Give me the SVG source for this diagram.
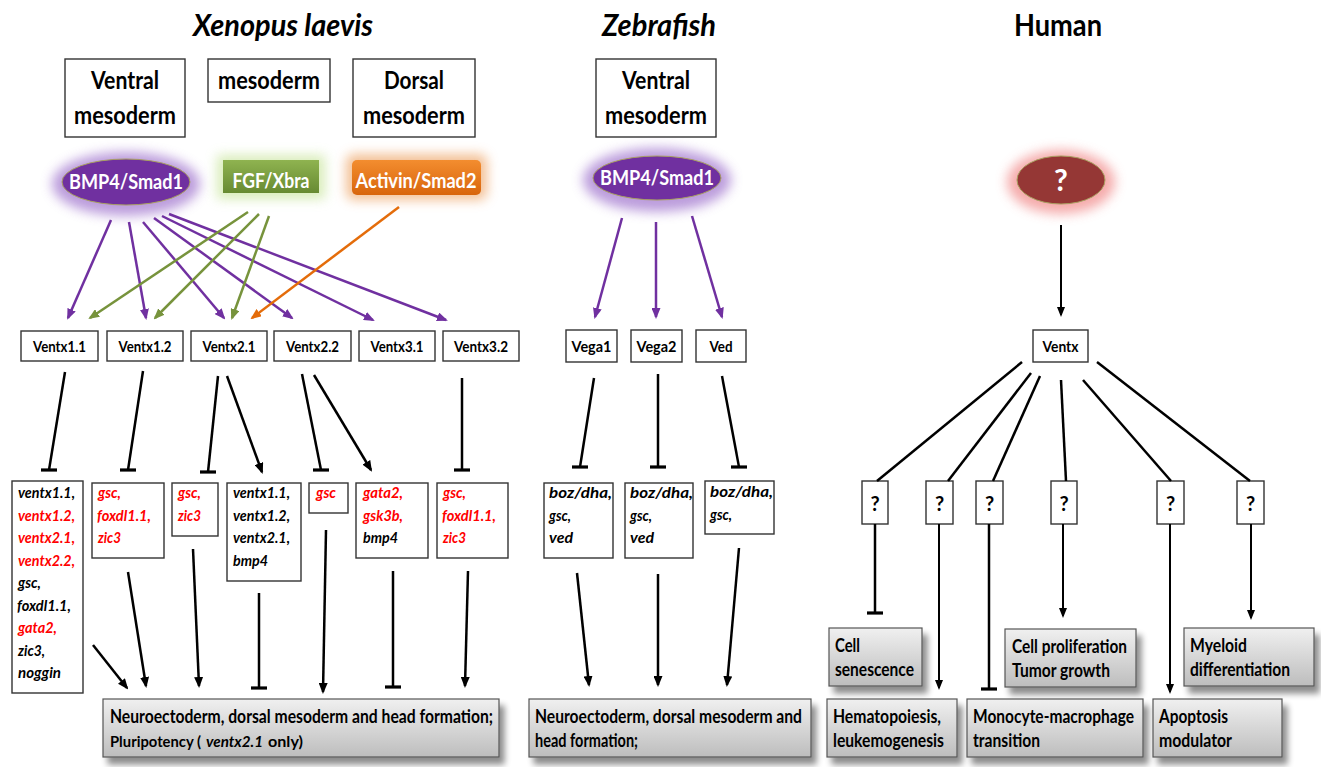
<svg xmlns="http://www.w3.org/2000/svg" width="1321" height="767" viewBox="0 0 1321 767">
<defs>
<style>
text{font-family:Lato,"Liberation Sans",sans-serif;fill:#000}
.box{fill:#fff;stroke:#333;stroke-width:1.4}
.hdr{font-size:24px;font-weight:bold;text-anchor:middle}
.title{font-size:30px;font-weight:bold;text-anchor:middle}
.sig{font-size:20px;font-weight:bold;text-anchor:middle;fill:#fff}
.bigq{font-size:30px;font-weight:bold;text-anchor:middle;fill:#fff}
.lbl{font-size:16px;font-weight:bold;text-anchor:middle}
.gene{font-size:16px;font-style:italic;font-weight:bold}
.red{fill:#ff0000}
.res{font-size:18px;font-weight:bold}
.res2{font-size:15.5px;font-weight:bold}
.it{font-style:italic}
.q{font-size:20px;font-weight:bold;text-anchor:middle}
.grey{fill:url(#gg);stroke:#555;stroke-width:1.2;filter:url(#sh)}
.pa{stroke:#7030a0;stroke-width:2.5;fill:none;marker-end:url(#ap)}
.ga{stroke:#77933c;stroke-width:2.5;fill:none;marker-end:url(#ag)}
.oa{stroke:#e46c0a;stroke-width:2.5;fill:none;marker-end:url(#ao)}
.ba{stroke:#000;stroke-width:2.5;fill:none;marker-end:url(#ab)}
.bt{stroke:#000;stroke-width:2;fill:none;marker-end:url(#ab2)}
.bl{stroke:#000;stroke-width:2.5;fill:none}
.bar{stroke:#000;stroke-width:3.2;fill:none}
</style>
<linearGradient id="gg" x1="0" y1="0" x2="0" y2="1"><stop offset="0" stop-color="#f0f0f0"/><stop offset="1" stop-color="#bdbdbd"/></linearGradient>
<linearGradient id="gf" x1="0" y1="0" x2="0" y2="1"><stop offset="0" stop-color="#8fb350"/><stop offset="1" stop-color="#678a32"/></linearGradient>
<linearGradient id="go" x1="0" y1="0" x2="0" y2="1"><stop offset="0" stop-color="#f38d2f"/><stop offset="1" stop-color="#d8650c"/></linearGradient>
<filter id="sh" x="-10%" y="-20%" width="130%" height="160%"><feGaussianBlur in="SourceAlpha" stdDeviation="3"/><feOffset dx="5" dy="7" result="o"/><feComponentTransfer><feFuncA type="linear" slope="0.45"/></feComponentTransfer><feMerge><feMergeNode/><feMergeNode in="SourceGraphic"/></feMerge></filter>
<filter id="blur" x="-50%" y="-50%" width="200%" height="200%"><feGaussianBlur stdDeviation="6"/></filter>
<marker id="ap" markerUnits="userSpaceOnUse" markerWidth="11" markerHeight="9" refX="9" refY="4.5" orient="auto"><path d="M0,0L11,4.5L0,9z" fill="#7030a0"/></marker>
<marker id="ag" markerUnits="userSpaceOnUse" markerWidth="11" markerHeight="9" refX="9" refY="4.5" orient="auto"><path d="M0,0L11,4.5L0,9z" fill="#77933c"/></marker>
<marker id="ao" markerUnits="userSpaceOnUse" markerWidth="11" markerHeight="9" refX="9" refY="4.5" orient="auto"><path d="M0,0L11,4.5L0,9z" fill="#e46c0a"/></marker>
<marker id="ab" markerUnits="userSpaceOnUse" markerWidth="11" markerHeight="9" refX="9" refY="4.5" orient="auto"><path d="M0,0L11,4.5L0,9z" fill="#000"/></marker>
<marker id="ab2" markerUnits="userSpaceOnUse" markerWidth="10" markerHeight="8" refX="8" refY="4" orient="auto"><path d="M0,0L10,4L0,8z" fill="#000"/></marker>
</defs>
<rect width="1321" height="767" fill="#fff"/>

<g id="titles">
<text class="title" x="283" y="36" font-style="italic" textLength="180" lengthAdjust="spacingAndGlyphs">Xenopus laevis</text>
<text class="title" x="659" y="36" font-style="italic" textLength="114" lengthAdjust="spacingAndGlyphs">Zebrafish</text>
<text class="title" x="1058" y="36" textLength="88" lengthAdjust="spacingAndGlyphs">Human</text>
</g>

<g id="x-ventral-mesoderm"><rect class="box" x="65" y="59" width="120" height="78"/><text class="hdr" x="125" y="89" textLength="68" lengthAdjust="spacingAndGlyphs">Ventral</text><text class="hdr" x="125" y="124" textLength="102" lengthAdjust="spacingAndGlyphs">mesoderm</text></g>
<g id="x-mesoderm"><rect class="box" x="208" y="59" width="122" height="43"/><text class="hdr" x="269" y="89" textLength="102" lengthAdjust="spacingAndGlyphs">mesoderm</text></g>
<g id="x-dorsal-mesoderm"><rect class="box" x="353" y="59" width="122" height="78"/><text class="hdr" x="414" y="89" textLength="60" lengthAdjust="spacingAndGlyphs">Dorsal</text><text class="hdr" x="414" y="124" textLength="102" lengthAdjust="spacingAndGlyphs">mesoderm</text></g>

<g id="x-bmp4">
<ellipse cx="126" cy="184" rx="74" ry="32" fill="#a57cd0" opacity="0.75" filter="url(#blur)"/>
<ellipse cx="126" cy="182" rx="64" ry="23" fill="#7030a0" stroke="#a8a060" stroke-width="1"/>
<text class="sig" x="126" y="189" textLength="114" lengthAdjust="spacingAndGlyphs">BMP4/Smad1</text></g>
<g id="x-fgf">
<rect x="217" y="155" width="108" height="44" fill="#cfe8a8" opacity="0.8" filter="url(#blur)"/>
<rect x="223" y="160" width="96" height="33" fill="url(#gf)"/>
<text class="sig" x="271" y="188" textLength="77" lengthAdjust="spacingAndGlyphs">FGF/Xbra</text></g>
<g id="x-activin">
<rect x="346" y="154" width="141" height="46" rx="8" fill="#f0b07a" opacity="0.8" filter="url(#blur)"/>
<rect x="352" y="160" width="129" height="35" rx="5" fill="url(#go)"/>
<text class="sig" x="416" y="188" textLength="121" lengthAdjust="spacingAndGlyphs">Activin/Smad2</text></g>

<g id="x-ventx11"><rect class="box" x="21" y="331" width="77" height="30"/><text class="lbl" x="59.5" y="352" textLength="53" lengthAdjust="spacingAndGlyphs">Ventx1.1</text></g>
<g id="x-ventx12"><rect class="box" x="107" y="331" width="76" height="30"/><text class="lbl" x="145" y="352" textLength="53" lengthAdjust="spacingAndGlyphs">Ventx1.2</text></g>
<g id="x-ventx21"><rect class="box" x="191" y="331" width="76" height="30"/><text class="lbl" x="229" y="352" textLength="53" lengthAdjust="spacingAndGlyphs">Ventx2.1</text></g>
<g id="x-ventx22"><rect class="box" x="274" y="331" width="77" height="30"/><text class="lbl" x="312.5" y="352" textLength="53" lengthAdjust="spacingAndGlyphs">Ventx2.2</text></g>
<g id="x-ventx31"><rect class="box" x="359" y="331" width="76" height="30"/><text class="lbl" x="397" y="352" textLength="53" lengthAdjust="spacingAndGlyphs">Ventx3.1</text></g>
<g id="x-ventx32"><rect class="box" x="443" y="331" width="76" height="30"/><text class="lbl" x="481" y="352" textLength="54" lengthAdjust="spacingAndGlyphs">Ventx3.2</text></g>

<g id="x-targets-a"><rect class="box" x="12" y="481" width="71" height="212"/>
<text class="gene" x="18" y="498" textLength="57" lengthAdjust="spacingAndGlyphs">ventx1.1,</text>
<text class="gene red" x="18" y="520.5" textLength="57" lengthAdjust="spacingAndGlyphs">ventx1.2,</text>
<text class="gene red" x="18" y="543" textLength="57" lengthAdjust="spacingAndGlyphs">ventx2.1,</text>
<text class="gene red" x="18" y="565.5" textLength="57" lengthAdjust="spacingAndGlyphs">ventx2.2,</text>
<text class="gene" x="18" y="588" textLength="23" lengthAdjust="spacingAndGlyphs">gsc,</text>
<text class="gene" x="17" y="610.5" textLength="54" lengthAdjust="spacingAndGlyphs">foxdl1.1,</text>
<text class="gene red" x="18" y="633" textLength="39" lengthAdjust="spacingAndGlyphs">gata2,</text>
<text class="gene" x="18" y="655.5" textLength="27" lengthAdjust="spacingAndGlyphs">zic3,</text>
<text class="gene" x="18" y="678" textLength="43" lengthAdjust="spacingAndGlyphs">noggin</text></g>
<g id="x-targets-b"><rect class="box" x="92" y="483" width="72" height="75"/>
<text class="gene red" x="98" y="498" textLength="23" lengthAdjust="spacingAndGlyphs">gsc,</text>
<text class="gene red" x="97" y="520.5" textLength="54" lengthAdjust="spacingAndGlyphs">foxdl1.1,</text>
<text class="gene red" x="98" y="543" textLength="23" lengthAdjust="spacingAndGlyphs">zic3</text></g>
<g id="x-targets-c"><rect class="box" x="172" y="483" width="46" height="53"/>
<text class="gene red" x="178" y="498" textLength="23" lengthAdjust="spacingAndGlyphs">gsc,</text>
<text class="gene red" x="178" y="520.5" textLength="23" lengthAdjust="spacingAndGlyphs">zic3</text></g>
<g id="x-targets-d"><rect class="box" x="227" y="483" width="74" height="98"/>
<text class="gene" x="233" y="498" textLength="57" lengthAdjust="spacingAndGlyphs">ventx1.1,</text>
<text class="gene" x="233" y="520.5" textLength="57" lengthAdjust="spacingAndGlyphs">ventx1.2,</text>
<text class="gene" x="233" y="543" textLength="57" lengthAdjust="spacingAndGlyphs">ventx2.1,</text>
<text class="gene" x="233" y="565.5" textLength="35" lengthAdjust="spacingAndGlyphs">bmp4</text></g>
<g id="x-targets-e"><rect class="box" x="309" y="483" width="39" height="30"/>
<text class="gene red" x="316" y="498" textLength="20" lengthAdjust="spacingAndGlyphs">gsc</text></g>
<g id="x-targets-f"><rect class="box" x="356" y="483" width="72" height="75"/>
<text class="gene red" x="363" y="498" textLength="40" lengthAdjust="spacingAndGlyphs">gata2,</text>
<text class="gene red" x="363" y="520.5" textLength="40" lengthAdjust="spacingAndGlyphs">gsk3b,</text>
<text class="gene" x="363" y="543" textLength="35" lengthAdjust="spacingAndGlyphs">bmp4</text></g>
<g id="x-targets-g"><rect class="box" x="437" y="483" width="71" height="75"/>
<text class="gene red" x="443" y="498" textLength="23" lengthAdjust="spacingAndGlyphs">gsc,</text>
<text class="gene red" x="442" y="520.5" textLength="54" lengthAdjust="spacingAndGlyphs">foxdl1.1,</text>
<text class="gene red" x="443" y="543" textLength="23" lengthAdjust="spacingAndGlyphs">zic3</text></g>

<g id="x-outcome"><rect class="grey" x="103" y="699" width="396" height="58"/>
<text class="res" x="110" y="723" textLength="383" lengthAdjust="spacingAndGlyphs">Neuroectoderm, dorsal mesoderm and head formation;</text>
<text class="res2" x="110" y="747" textLength="91" lengthAdjust="spacingAndGlyphs">Pluripotency (</text>
<text class="res2 it" x="206" y="747" textLength="57" lengthAdjust="spacingAndGlyphs">ventx2.1</text>
<text class="res2" x="268" y="747" textLength="35" lengthAdjust="spacingAndGlyphs">only)</text></g>

<g id="z-ventral-mesoderm"><rect class="box" x="596" y="59" width="120" height="78"/><text class="hdr" x="656" y="89" textLength="68" lengthAdjust="spacingAndGlyphs">Ventral</text><text class="hdr" x="656" y="124" textLength="102" lengthAdjust="spacingAndGlyphs">mesoderm</text></g>
<g id="z-bmp4">
<ellipse cx="657" cy="180" rx="74" ry="32" fill="#a57cd0" opacity="0.75" filter="url(#blur)"/>
<ellipse cx="657" cy="178" rx="64" ry="22" fill="#7030a0" stroke="#a8a060" stroke-width="1"/>
<text class="sig" x="657" y="185" textLength="114" lengthAdjust="spacingAndGlyphs">BMP4/Smad1</text></g>
<g id="z-vega1"><rect class="box" x="566" y="330" width="51" height="32"/><text class="lbl" x="591.5" y="352" textLength="40" lengthAdjust="spacingAndGlyphs">Vega1</text></g>
<g id="z-vega2"><rect class="box" x="631" y="330" width="51" height="32"/><text class="lbl" x="656.5" y="352" textLength="40" lengthAdjust="spacingAndGlyphs">Vega2</text></g>
<g id="z-ved"><rect class="box" x="696" y="330" width="50" height="32"/><text class="lbl" x="721" y="352" textLength="23" lengthAdjust="spacingAndGlyphs">Ved</text></g>
<g id="z-targets-1"><rect class="box" x="544" y="483" width="69" height="75"/>
<text class="gene" x="549" y="498" textLength="63" lengthAdjust="spacingAndGlyphs">boz/dha,</text>
<text class="gene" x="549" y="520.5" textLength="22" lengthAdjust="spacingAndGlyphs">gsc,</text>
<text class="gene" x="549" y="543" textLength="24" lengthAdjust="spacingAndGlyphs">ved</text></g>
<g id="z-targets-2"><rect class="box" x="625" y="483" width="68" height="75"/>
<text class="gene" x="630" y="498" textLength="63" lengthAdjust="spacingAndGlyphs">boz/dha,</text>
<text class="gene" x="630" y="520.5" textLength="22" lengthAdjust="spacingAndGlyphs">gsc,</text>
<text class="gene" x="630" y="543" textLength="24" lengthAdjust="spacingAndGlyphs">ved</text></g>
<g id="z-targets-3"><rect class="box" x="705" y="481" width="69" height="53"/>
<text class="gene" x="710" y="497" textLength="63" lengthAdjust="spacingAndGlyphs">boz/dha,</text>
<text class="gene" x="710" y="519.5" textLength="22" lengthAdjust="spacingAndGlyphs">gsc,</text></g>
<g id="z-outcome"><rect class="grey" x="529" y="699" width="282" height="58"/>
<text class="res" x="535" y="723" textLength="267" lengthAdjust="spacingAndGlyphs">Neuroectoderm, dorsal mesoderm and</text>
<text class="res" x="535" y="747" textLength="103" lengthAdjust="spacingAndGlyphs">head formation;</text></g>

<g id="h-unknown">
<ellipse cx="1061" cy="182" rx="54" ry="32" fill="#f29090" opacity="0.75" filter="url(#blur)"/>
<ellipse cx="1061" cy="180" rx="44" ry="24" fill="#953735" stroke="#a8a060" stroke-width="1"/>
<text class="bigq" x="1061" y="191">?</text></g>
<g id="h-ventx"><rect class="box" x="1033" y="330" width="55" height="32"/><text class="lbl" x="1060.5" y="352" textLength="36" lengthAdjust="spacingAndGlyphs">Ventx</text></g>
<g id="h-q1"><rect class="box" x="862" y="481" width="26" height="43"/><text class="q" x="875" y="511">?</text></g>
<g id="h-q2"><rect class="box" x="926" y="481" width="27" height="43"/><text class="q" x="939.5" y="511">?</text></g>
<g id="h-q3"><rect class="box" x="976" y="481" width="27" height="43"/><text class="q" x="989.5" y="511">?</text></g>
<g id="h-q4"><rect class="box" x="1051" y="481" width="26" height="43"/><text class="q" x="1064" y="511">?</text></g>
<g id="h-q5"><rect class="box" x="1157" y="481" width="27" height="43"/><text class="q" x="1170.5" y="511">?</text></g>
<g id="h-q6"><rect class="box" x="1237" y="481" width="27" height="43"/><text class="q" x="1250.5" y="511">?</text></g>

<g id="h-senescence"><rect class="grey" x="829" y="628" width="93" height="58"/><text class="res" x="835" y="652" textLength="25" lengthAdjust="spacingAndGlyphs">Cell</text><text class="res" x="835" y="676" textLength="79" lengthAdjust="spacingAndGlyphs">senescence</text></g>
<g id="h-hematopoiesis"><rect class="grey" x="827" y="699" width="130" height="58"/><text class="res" x="833" y="723" textLength="108" lengthAdjust="spacingAndGlyphs">Hematopoiesis,</text><text class="res" x="833" y="747" textLength="111" lengthAdjust="spacingAndGlyphs">leukemogenesis</text></g>
<g id="h-proliferation"><rect class="grey" x="1005" y="629" width="131" height="58"/><text class="res" x="1012" y="653" textLength="115" lengthAdjust="spacingAndGlyphs">Cell proliferation</text><text class="res" x="1012" y="677" textLength="98" lengthAdjust="spacingAndGlyphs">Tumor growth</text></g>
<g id="h-monocyte"><rect class="grey" x="967" y="699" width="176" height="58"/><text class="res" x="973" y="723" textLength="161" lengthAdjust="spacingAndGlyphs">Monocyte-macrophage</text><text class="res" x="973" y="747" textLength="67" lengthAdjust="spacingAndGlyphs">transition</text></g>
<g id="h-apoptosis"><rect class="grey" x="1153" y="699" width="129" height="58"/><text class="res" x="1159" y="723" textLength="69" lengthAdjust="spacingAndGlyphs">Apoptosis</text><text class="res" x="1159" y="747" textLength="73" lengthAdjust="spacingAndGlyphs">modulator</text></g>
<g id="h-myeloid"><rect class="grey" x="1184" y="628" width="130" height="58"/><text class="res" x="1190" y="652" textLength="57" lengthAdjust="spacingAndGlyphs">Myeloid</text><text class="res" x="1190" y="676" textLength="100" lengthAdjust="spacingAndGlyphs">differentiation</text></g>

<g id="connectors">
<line class="pa" x1="111" y1="220" x2="68" y2="318"/>
<line class="pa" x1="129" y1="222" x2="146" y2="318"/>
<line class="pa" x1="143" y1="222" x2="224" y2="318"/>
<line class="pa" x1="154" y1="218" x2="292" y2="318"/>
<line class="pa" x1="162" y1="216" x2="373" y2="320"/>
<line class="pa" x1="169" y1="214" x2="446" y2="320"/>
<line class="ga" x1="248" y1="212" x2="90" y2="318"/>
<line class="ga" x1="259" y1="214" x2="155" y2="318"/>
<line class="ga" x1="269" y1="216" x2="232" y2="318"/>
<line class="oa" x1="399" y1="207" x2="252" y2="318"/>

<line class="bl" x1="65" y1="372" x2="49" y2="470"/><line class="bar" x1="41" y1="470" x2="57" y2="470"/>
<line class="bl" x1="143" y1="371" x2="128" y2="470"/><line class="bar" x1="120" y1="470" x2="136" y2="470"/>
<line class="bl" x1="218" y1="376" x2="208" y2="472"/><line class="bar" x1="200" y1="472" x2="216" y2="472"/>
<line class="ba" x1="227" y1="376" x2="262" y2="472"/>
<line class="bl" x1="302" y1="374" x2="321" y2="470"/><line class="bar" x1="313" y1="470" x2="329" y2="470"/>
<line class="ba" x1="314" y1="375" x2="371" y2="470"/>
<line class="bl" x1="462" y1="378" x2="462" y2="470"/><line class="bar" x1="454" y1="470" x2="470" y2="470"/>

<line class="ba" x1="93" y1="645" x2="127" y2="688"/>
<line class="ba" x1="128" y1="572" x2="146" y2="686"/>
<line class="ba" x1="193" y1="549" x2="199" y2="686"/>
<line class="bl" x1="259" y1="593" x2="259" y2="688"/><line class="bar" x1="251" y1="688" x2="267" y2="688"/>
<line class="ba" x1="326" y1="530" x2="323" y2="692"/>
<line class="bl" x1="393" y1="571" x2="393" y2="687"/><line class="bar" x1="385" y1="687" x2="401" y2="687"/>
<line class="ba" x1="468" y1="571" x2="465" y2="686"/>

<line class="pa" x1="622" y1="218" x2="595" y2="317"/>
<line class="pa" x1="656" y1="222" x2="656" y2="317"/>
<line class="pa" x1="692" y1="216" x2="722" y2="317"/>
<line class="bl" x1="594" y1="378" x2="580" y2="467"/><line class="bar" x1="572" y1="467" x2="588" y2="467"/>
<line class="bl" x1="658" y1="374" x2="658" y2="467"/><line class="bar" x1="650" y1="467" x2="666" y2="467"/>
<line class="bl" x1="722" y1="376" x2="739" y2="467"/><line class="bar" x1="731" y1="467" x2="747" y2="467"/>
<line class="ba" x1="577" y1="573" x2="589" y2="685"/>
<line class="ba" x1="658" y1="574" x2="658" y2="685"/>
<line class="ba" x1="739" y1="548" x2="727" y2="685"/>

<line class="bt" x1="1061" y1="225" x2="1061" y2="315"/>
<line class="bl" x1="1022" y1="362" x2="877" y2="481"/>
<line class="bl" x1="1031" y1="373" x2="948" y2="481"/>
<line class="bl" x1="1040" y1="376" x2="993" y2="481"/>
<line class="bl" x1="1061" y1="380" x2="1066" y2="481"/>
<line class="bl" x1="1083" y1="380" x2="1171" y2="481"/>
<line class="bl" x1="1097" y1="362" x2="1250" y2="481"/>
<line class="bl" x1="875" y1="524" x2="875" y2="613"/><line class="bar" x1="867" y1="613" x2="883" y2="613"/>
<line class="bt" x1="939" y1="524" x2="939" y2="688"/>
<line class="bl" x1="989" y1="524" x2="989" y2="689"/><line class="bar" x1="981" y1="689" x2="997" y2="689"/>
<line class="bt" x1="1063" y1="524" x2="1063" y2="616"/>
<line class="bt" x1="1170" y1="524" x2="1170" y2="692"/>
<line class="bt" x1="1251" y1="524" x2="1251" y2="618"/>
</g>
</svg>
